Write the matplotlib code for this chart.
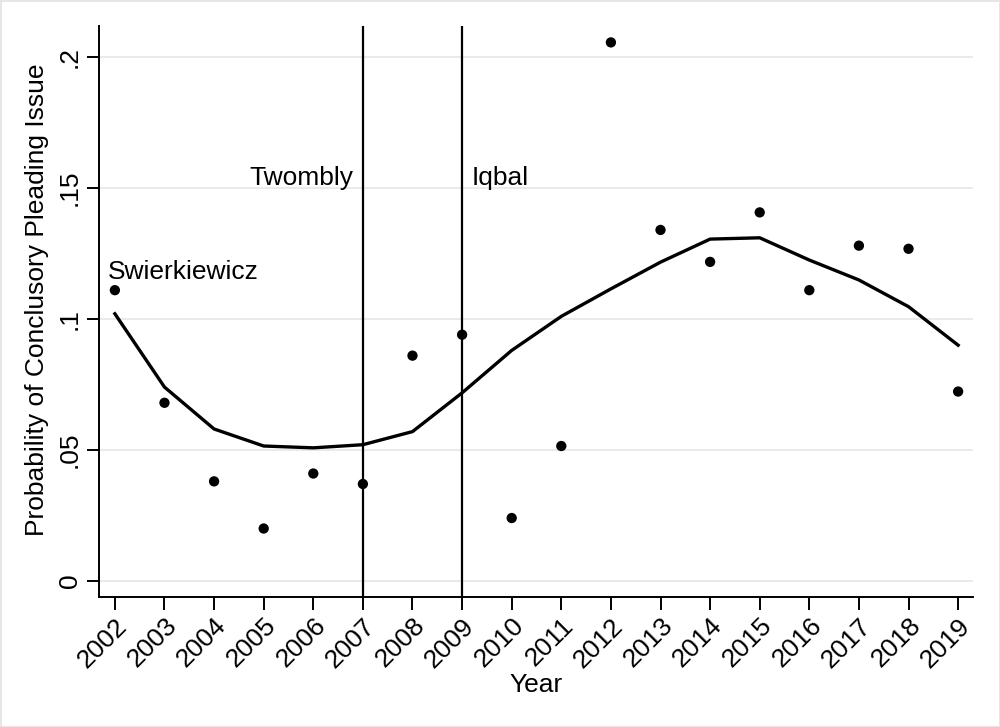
import numpy as np
import matplotlib.pyplot as plt

plt.rcParams['font.family'] = ['Liberation Sans', 'DejaVu Sans']

years = list(range(2002, 2020))
observed = [0.111, 0.068, 0.038, 0.020, 0.041, 0.037, 0.086, 0.094, 0.024,
            0.0515, 0.2056, 0.134, 0.1218, 0.1407, 0.111, 0.128, 0.1268, 0.0723]
smoothed = [0.102, 0.074, 0.058, 0.0515, 0.0508, 0.052, 0.057, 0.0718, 0.088,
            0.101, 0.1115, 0.1217, 0.1305, 0.131, 0.1225, 0.1149, 0.1047, 0.090]
yticks = [0, 0.05, 0.1, 0.15, 0.2]
ytick_labels = ['0', '.05', '.1', '.15', '.2']
events = {'Twombly': 2007, 'Iqbal': 2009}

fs = 19

fig = plt.figure(figsize=(10, 7.27), dpi=100)
fig.patch.set_edgecolor('#e6e6e6')
fig.patch.set_linewidth(2)
ax = fig.add_axes([0.099, 0.179, 0.874, 0.785])

ax.set_xlim(2001.68, 2019.30)
ax.set_ylim(-0.0061, 0.2118)

for yt in yticks:
    ax.axhline(yt, color='#e8e8e8', lw=1.3, zorder=0)

for name, yr in events.items():
    ax.axvline(yr, color='black', lw=1.6, zorder=2)

ax.plot(years, smoothed, color='black', lw=2.4, zorder=3)
ax.scatter(years, observed, s=55, color='black', zorder=4, edgecolors='none')

ax.text(2001.86, 0.118, 'Swierkiewicz', fontsize=fs, ha='left', va='center')
ax.text(2006.8, 0.154, 'Twombly', fontsize=fs, ha='right', va='center')
ax.text(2009.2, 0.154, 'Iqbal', fontsize=fs, ha='left', va='center')

ax.set_xticks(years)
ax.set_xticklabels([str(y) for y in years], rotation=45, ha='right',
                   rotation_mode='anchor', fontsize=fs)
ax.set_yticks(yticks)
ax.set_yticklabels(ytick_labels, rotation=90, va='center', fontsize=fs)
ax.tick_params(axis='both', direction='out', length=9, width=1.4, color='black')
ax.tick_params(axis='x', pad=3)

for side in ['top', 'right']:
    ax.spines[side].set_visible(False)
for side in ['left', 'bottom']:
    ax.spines[side].set_linewidth(1.4)

ax.set_xlabel('Year', fontsize=fs, labelpad=1)
ax.set_ylabel('Probability of Conclusory Pleading Issue', fontsize=fs, labelpad=6)
ax.yaxis.label.set_y(0.52)

fig.savefig('out.png', dpi=100)
